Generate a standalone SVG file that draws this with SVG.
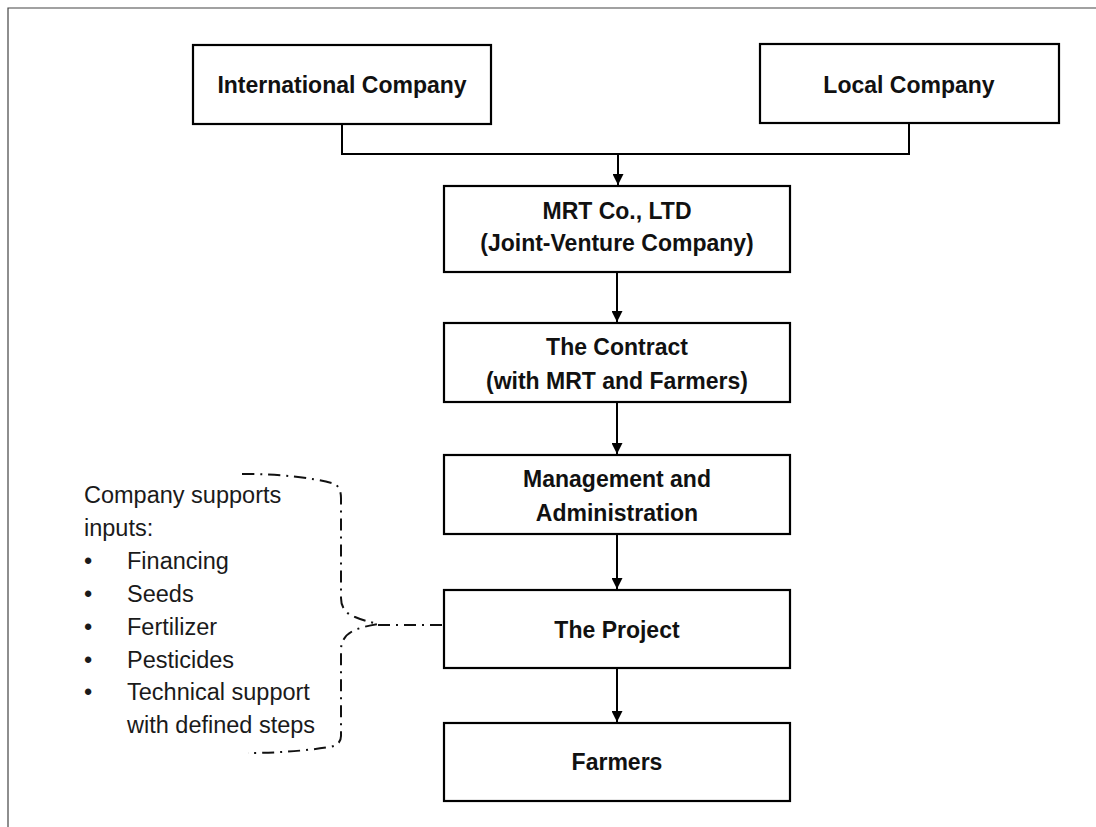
<svg xmlns="http://www.w3.org/2000/svg" width="1096" height="827" viewBox="0 0 1096 827">
<style>
.box{fill:#fff;stroke:#000;stroke-width:2.2}
.bt{font-family:"Liberation Sans",Arial,sans-serif;font-weight:bold;font-size:23px;fill:#111;text-anchor:middle}
.lt{font-family:"Liberation Sans",Arial,sans-serif;font-size:23.5px;fill:#1a1a1a}
.con{fill:none;stroke:#000;stroke-width:2}
.dd{fill:none;stroke:#111;stroke-width:2;stroke-dasharray:12 6 2 6}
</style>
<defs>
<marker id="arr" viewBox="0 0 10 10" refX="10" refY="5" markerWidth="11" markerHeight="11" markerUnits="userSpaceOnUse" orient="auto">
<path d="M0,0 L10,5 L0,10 z" fill="#000"/>
</marker>
</defs>
<rect width="1096" height="827" fill="#fff"/>
<path d="M8,827 V8 H1096" fill="none" stroke="#444" stroke-width="1.2"/>

<g id="connectors">
<path class="con" d="M342,124 V154 H618"/>
<path class="con" d="M909,123 V154 H618"/>
<path class="con" d="M618,154 V185" marker-end="url(#arr)"/>
<path class="con" d="M617,272 V322" marker-end="url(#arr)"/>
<path class="con" d="M617,402 V454" marker-end="url(#arr)"/>
<path class="con" d="M617,534 V589" marker-end="url(#arr)"/>
<path class="con" d="M617,668 V722" marker-end="url(#arr)"/>
<path class="dd" d="M242,474 Q300,474 335,484 Q341,488 341,498 V598 Q341,612 355,617 Q365,621 378,624 Q365,626 355,630 Q341,636 341,650 V736 Q341,745 330,747 Q290,753 248,753"/>
<path class="dd" d="M378,625 H444"/>
</g>

<g id="international">
<rect class="box" x="193" y="45" width="298" height="79"/>
<text class="bt" x="342" y="93">International Company</text>
</g>
<g id="local">
<rect class="box" x="760" y="44" width="299" height="79"/>
<text class="bt" x="909" y="93">Local Company</text>
</g>
<g id="mrt">
<rect class="box" x="444" y="186" width="346" height="86"/>
<text class="bt" x="617" y="219">MRT Co., LTD</text>
<text class="bt" x="617" y="251">(Joint-Venture Company)</text>
</g>
<g id="contract">
<rect class="box" x="444" y="323" width="346" height="79"/>
<text class="bt" x="617" y="355">The Contract</text>
<text class="bt" x="617" y="389">(with MRT and Farmers)</text>
</g>
<g id="management">
<rect class="box" x="444" y="455" width="346" height="79"/>
<text class="bt" x="617" y="487">Management and</text>
<text class="bt" x="617" y="521">Administration</text>
</g>
<g id="project">
<rect class="box" x="444" y="590" width="346" height="78"/>
<text class="bt" x="617" y="638">The Project</text>
</g>
<g id="farmers">
<rect class="box" x="444" y="723" width="346" height="78"/>
<text class="bt" x="617" y="770">Farmers</text>
</g>

<g id="inputs-note">
<text class="lt" x="84" y="503">Company supports</text>
<text class="lt" x="84" y="536">inputs:</text>
<text class="lt" x="84" y="569">•</text><text class="lt" x="127" y="569">Financing</text>
<text class="lt" x="84" y="602">•</text><text class="lt" x="127" y="602">Seeds</text>
<text class="lt" x="84" y="635">•</text><text class="lt" x="127" y="635">Fertilizer</text>
<text class="lt" x="84" y="668">•</text><text class="lt" x="127" y="668">Pesticides</text>
<text class="lt" x="84" y="700">•</text><text class="lt" x="127" y="700">Technical support</text>
<text class="lt" x="127" y="733">with defined steps</text>
</g>
</svg>
